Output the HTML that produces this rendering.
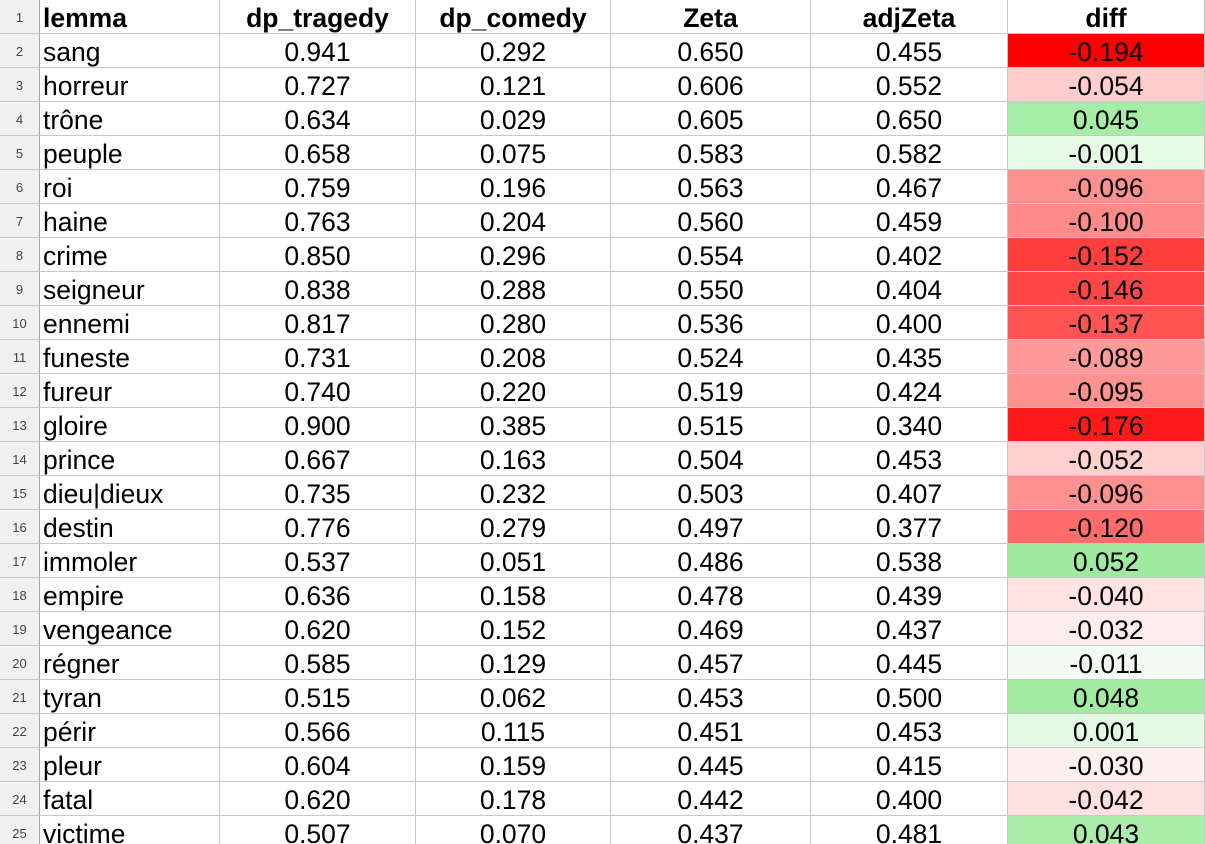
<!DOCTYPE html>
<html><head><meta charset="utf-8">
<style>
html,body{margin:0;padding:0;background:#fff;width:1205px;height:844px;overflow:hidden}
#sheet{position:relative;width:1205px;height:844px;font-family:"Liberation Sans",sans-serif;}
.c{position:absolute;box-sizing:border-box;border-right:1px solid #c8c8c8;border-bottom:1px solid #c8c8c8;font-size:26.5px;line-height:32px;padding-top:2px;white-space:nowrap;overflow:hidden;color:#000}
.rh{background:#f0f0f0;color:#444;font-size:13px;text-align:center;border-right:1px solid #a8a8a8}
.hd{font-weight:bold;text-align:center}
.num{text-align:center}
.lem{text-align:left;padding-left:3px}
</style></head>
<body>
<div id="sheet"></div>
<script>
const headers=["lemma","dp_tragedy","dp_comedy","Zeta","adjZeta","diff"];
const lemmas=["sang","horreur","trône","peuple","roi","haine","crime","seigneur","ennemi","funeste","fureur","gloire","prince","dieu|dieux","destin","immoler","empire","vengeance","régner","tyran","périr","pleur","fatal","victime"];
const dpTragedy=[0.941,0.727,0.634,0.658,0.759,0.763,0.850,0.838,0.817,0.731,0.740,0.900,0.667,0.735,0.776,0.537,0.636,0.620,0.585,0.515,0.566,0.604,0.620,0.507];
const dpComedy=[0.292,0.121,0.029,0.075,0.196,0.204,0.296,0.288,0.280,0.208,0.220,0.385,0.163,0.232,0.279,0.051,0.158,0.152,0.129,0.062,0.115,0.159,0.178,0.070];
const zeta=[0.650,0.606,0.605,0.583,0.563,0.560,0.554,0.550,0.536,0.524,0.519,0.515,0.504,0.503,0.497,0.486,0.478,0.469,0.457,0.453,0.451,0.445,0.442,0.437];
const adjZeta=[0.455,0.552,0.650,0.582,0.467,0.459,0.402,0.404,0.400,0.435,0.424,0.340,0.453,0.407,0.377,0.538,0.439,0.437,0.445,0.500,0.453,0.415,0.400,0.481];
const diffs=[-0.194,-0.054,0.045,-0.001,-0.096,-0.100,-0.152,-0.146,-0.137,-0.089,-0.095,-0.176,-0.052,-0.096,-0.120,0.052,-0.040,-0.032,-0.011,0.048,0.001,-0.030,-0.042,0.043];

const colX=[0,40,220,416,611,811,1008,1205];
const rowH=34;
const sheet=document.getElementById('sheet');
function mk(x,y,w,h,cls,txt,name){
  const d=document.createElement('div');
  d.className='c '+cls;
  d.style.left=x+'px';d.style.top=y+'px';d.style.width=w+'px';d.style.height=h+'px';
  d.textContent=txt;
  
  
  sheet.appendChild(d);return d;
}
function diffColor(v){
  const mn=Math.min(...diffs),mx=Math.max(...diffs),mid=-0.02;
  if(v<=mid){const t=(v-mn)/(mid-mn);const g=Math.round(255*t);return `rgb(255,${g},${g})`;}
  const t=(v-mid)/(mx-mid);
  return `rgb(${Math.round(255-t*97)},${Math.round(255-t*21)},${Math.round(255-t*97)})`;
}
const nRows=lemmas.length+1;
for(let r=0;r<nRows;r++){
  const y=r*rowH;
  mk(0,y,40,rowH,'rh',String(r+1),'row-header-'+(r+1));
  if(r===0){
    headers.forEach((h,i)=>{
      mk(colX[i+1],y,colX[i+2]-colX[i+1],rowH,'hd'+(i===0?' lem':''),h,'header-'+h.replace(/_/g,'-').toLowerCase());
    });
    continue;
  }
  const k=r-1;
  const vals=[lemmas[k],dpTragedy[k].toFixed(3),dpComedy[k].toFixed(3),zeta[k].toFixed(3),adjZeta[k].toFixed(3),diffs[k].toFixed(3)];
  vals.forEach((v,i)=>{
    const c=mk(colX[i+1],y,colX[i+2]-colX[i+1],rowH,i===0?'lem':'num',v,'cell-'+headers[i].replace(/_/g,'-').toLowerCase()+'-row-'+(r+1));
    if(i===5) c.style.background=diffColor(diffs[k]);
  });
}
</script>
</body></html>
